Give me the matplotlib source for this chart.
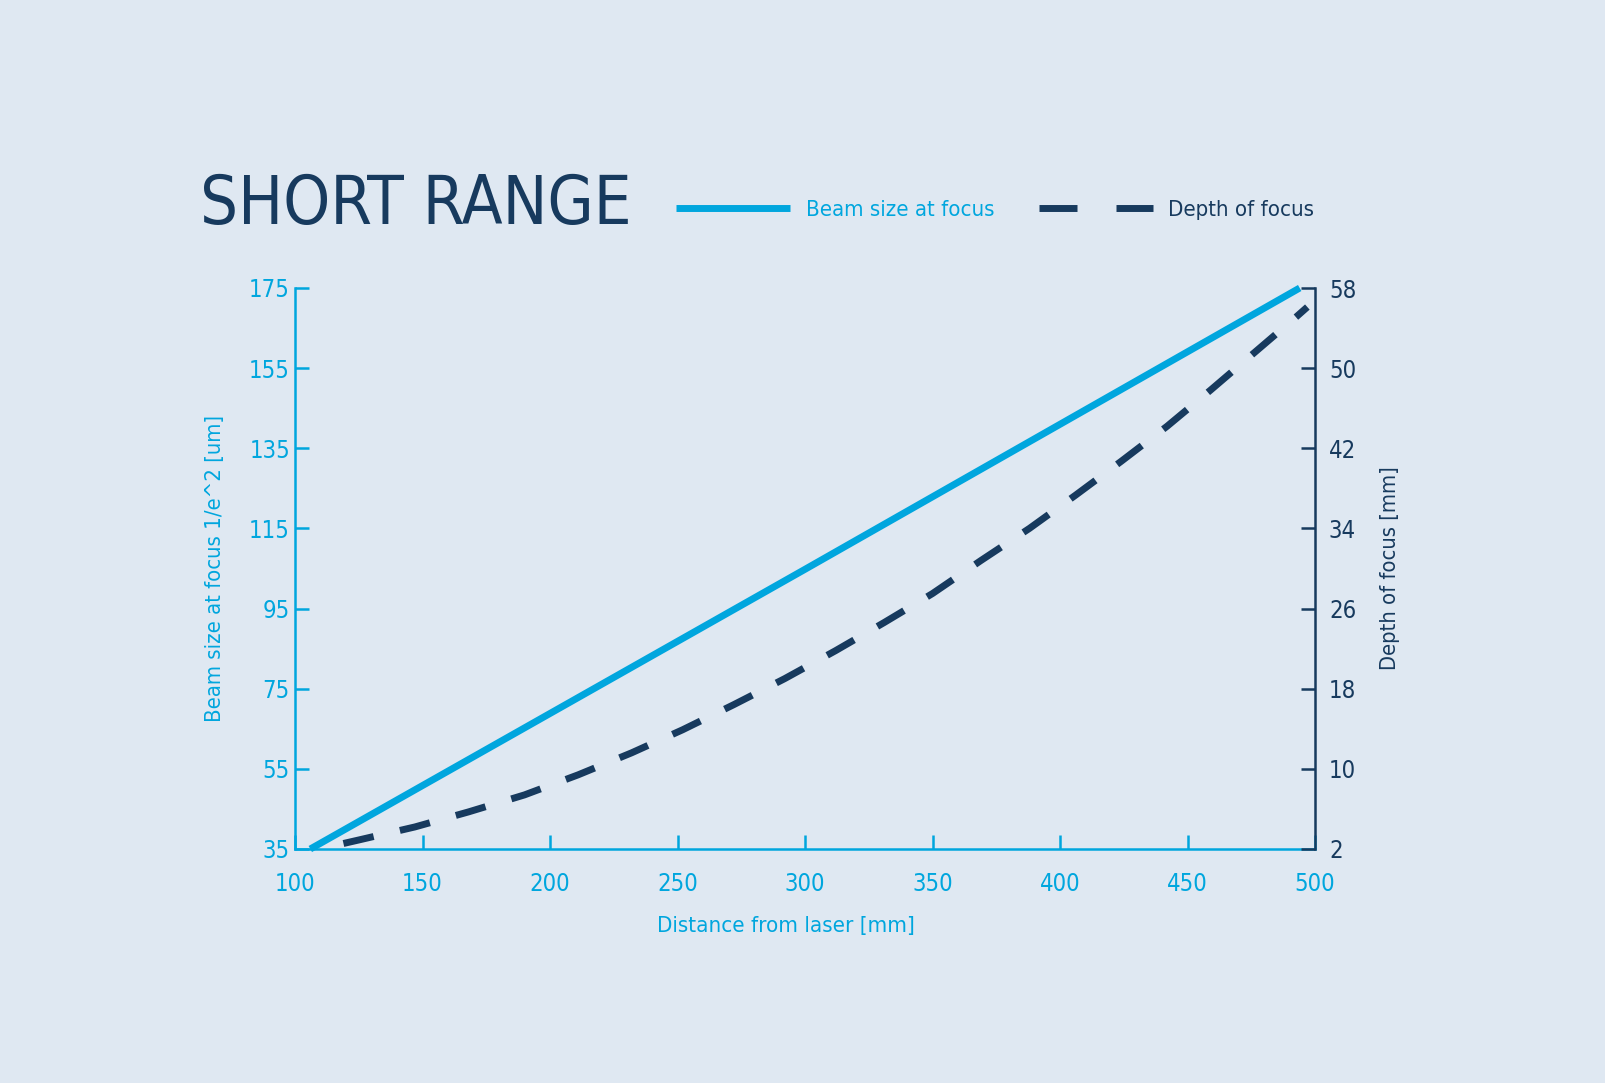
import matplotlib
matplotlib.use("Agg")
import matplotlib.pyplot as plt
import matplotlib.font_manager as fm
from matplotlib.lines import Line2D

# ---- data ----
x_ticks = [100, 150, 200, 250, 300, 350, 400, 450, 500]
left_ticks = [35, 55, 75, 95, 115, 135, 155, 175]
right_ticks = [2, 10, 18, 26, 34, 42, 50, 58]

beam_x = [106, 300, 494]
beam_y = [35, 104.8, 175]

dof_x = [119, 125, 147, 168, 190, 211, 232, 252, 272, 292, 312, 331, 350,
         369, 388, 406, 424, 442, 459, 476, 493, 497]
dof_y = [2.55, 2.9, 4.2, 5.7, 7.4, 9.4, 11.6, 13.9, 16.4, 19.0, 21.8, 24.6,
         27.5, 30.8, 34.0, 37.3, 40.7, 44.2, 47.8, 51.5, 55.2, 56.1]

title = "SHORT RANGE"
beam_label = "Beam size at focus"
dof_label = "Depth of focus"
xlabel = "Distance from laser [mm]"
ylabel_left = "Beam size at focus 1/e^2 [um]"
ylabel_right = "Depth of focus [mm]"


# ---- pick the narrowest installed sans font ----
def _num(v, d):
    if isinstance(v, (int, float)):
        return v
    return d.get(str(v).lower(), 500 if d is fm.stretch_dict else 400)


best = None
for f in fm.fontManager.ttflist:
    n = f.name.lower()
    if any(k in n for k in ['mono', 'cjk', 'math', 'emoji', 'symbol', 'display']):
        continue
    if 'serif' in n and 'sans' not in n:
        continue
    if f.style != 'normal':
        continue
    wt = _num(f.weight, fm.weight_dict)
    if wt < 300 or wt > 500:
        continue
    st = _num(f.stretch, fm.stretch_dict)
    key = (st, abs(wt - 400))
    if best is None or key < best[0]:
        best = (key, f)
if best is not None and best[0][0] < 500:
    plt.rcParams['font.family'] = [best[1].name, 'DejaVu Sans']
    plt.rcParams['font.stretch'] = best[1].stretch
else:
    plt.rcParams['font.family'] = ['Roboto', 'DejaVu Sans']

# ---- style ----
BG = '#dfe8f2'
CYAN = '#00a6de'
NAVY = '#173a5e'
W, H = 1605, 1083
LW = 5.0
dash_on, dash_off = 22.3 / LW, 19.4 / LW

fig = plt.figure(figsize=(W / 100, H / 100), dpi=100, facecolor=BG)
renderer = fig.canvas.get_renderer()


def fit_size(s, target_px, base=20.0):
    t = fig.text(0, 0, s, fontsize=base)
    w = t.get_window_extent(renderer).width
    t.remove()
    return base * target_px / w


ax = fig.add_axes([295 / W, 234 / H, 1020 / W, 561 / H])
ax.set_facecolor(BG)
ax2 = ax.twinx()

ax.set_xlim(100, 500)
ax.set_ylim(35, 175)
ax2.set_ylim(2, 58)

ax.plot(beam_x, beam_y, color=CYAN, lw=LW, solid_capstyle='butt', clip_on=False, zorder=3)
l2, = ax2.plot(dof_x, dof_y, color=NAVY, lw=LW, clip_on=False, zorder=3,
               dash_capstyle='butt', solid_capstyle='butt')
l2.set_dashes((dash_on, dash_off))

for s in ['top', 'right']:
    ax.spines[s].set_visible(False)
for s in ['top', 'left', 'bottom']:
    ax2.spines[s].set_visible(False)
ax.spines['left'].set_color(CYAN)
ax.spines['bottom'].set_color(CYAN)
ax2.spines['right'].set_color(NAVY)
for sp in [ax.spines['left'], ax.spines['bottom'], ax2.spines['right']]:
    sp.set_linewidth(1.8)

ax.set_xticks(x_ticks)
ax.set_xticklabels([str(v) for v in x_ticks])
ax.set_yticks(left_ticks)
ax.set_yticklabels([str(v) for v in left_ticks])
ax2.set_yticks(right_ticks)
ax2.set_yticklabels([str(v) for v in right_ticks])

tfs = fit_size("100", 34) * 1.2
tick_h_px = tfs * 1.389 * 0.75
xpad_pt = max(1.0, (32 - tick_h_px / 2) * 0.72)

ax.tick_params(axis='x', direction='in', length=10, width=1.8, color=CYAN,
               labelcolor=CYAN, labelsize=tfs, pad=xpad_pt)
ax.tick_params(axis='y', direction='in', length=10, width=1.8, color=CYAN,
               labelcolor=CYAN, labelsize=tfs, pad=3.6)
ax2.tick_params(axis='y', direction='in', length=10, width=1.8, color=NAVY,
                labelcolor=NAVY, labelsize=tfs, pad=10)

ax.set_xlabel(xlabel, color=CYAN, fontsize=fit_size(xlabel, 257))
ax.xaxis.set_label_coords((786 - 295) / 1020, -(926 - 849) / 561)
ax.xaxis.label.set_va('center')
ax.set_ylabel(ylabel_left, color=CYAN, fontsize=fit_size(ylabel_left, 307))
ax.yaxis.set_label_coords((215 - 295) / 1020, (849 - 568) / 561)
ax.yaxis.label.set_va('center')
ax2.set_ylabel(ylabel_right, color=NAVY, fontsize=fit_size(ylabel_right, 204), rotation=90)
ax2.yaxis.set_label_coords((1390 - 295) / 1020, (849 - 568) / 561)
ax2.yaxis.label.set_va('center')

# title
fig.text(200 / W, 1 - 224 / H, title, color=NAVY, fontsize=fit_size(title, 432),
         va='baseline', ha='left')

# legend with proxy handles
lfs = fit_size(beam_label, 188)
lpx = lfs / 0.72
h1 = Line2D([], [], color=CYAN, lw=LW, solid_capstyle='butt')
h2 = Line2D([], [], color=NAVY, lw=LW, dash_capstyle='butt')
h2.set_dashes((38 * 0.72 / LW, 39 * 0.72 / LW))
leg = fig.legend([h1, h2], [beam_label, dof_label], loc='center left',
                 bbox_to_anchor=(676 / W, 1 - 210 / H), bbox_transform=fig.transFigure,
                 ncol=2, frameon=False, fontsize=lfs, handlelength=114 / lpx,
                 handletextpad=16 / lpx, columnspacing=44 / lpx, borderpad=0,
                 borderaxespad=0, labelcolor=[CYAN, NAVY])

fig.savefig('out.png', dpi=100, facecolor=BG)
